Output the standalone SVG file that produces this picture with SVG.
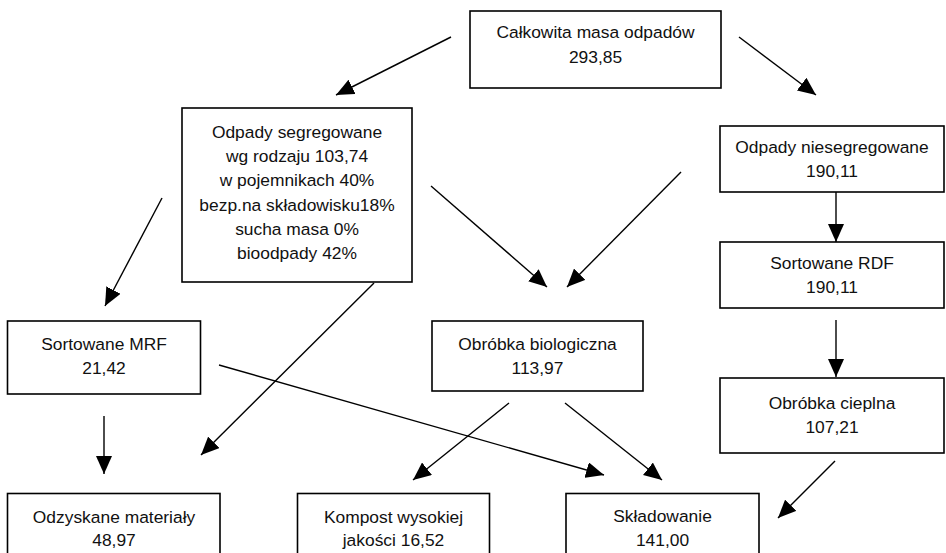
<svg xmlns="http://www.w3.org/2000/svg" width="946" height="553" viewBox="0 0 946 553">
<style>
.box{fill:#fff;stroke:#000;stroke-width:1.6}
.t{font-family:"Liberation Sans",Arial,sans-serif;font-size:17.4px;fill:#111;text-anchor:middle}
.c{stroke:#000;stroke-width:1.4;fill:none;marker-end:url(#ah)}
</style>
<defs>
<marker id="ah" viewBox="0 0 18 16" refX="18" refY="8" markerWidth="18" markerHeight="16" markerUnits="userSpaceOnUse" orient="auto">
<path d="M0,0 L18,8 L0,16 Z" fill="#000"/>
</marker>
</defs>
<rect width="946" height="553" fill="#fff"/>
<g id="connectors">
<line class="c" x1="451" y1="37" x2="336" y2="95"/>
<line class="c" x1="739" y1="37" x2="816" y2="95"/>
<line class="c" x1="162" y1="198" x2="105" y2="306"/>
<line class="c" x1="431" y1="186" x2="547" y2="287"/>
<line class="c" x1="681" y1="172" x2="567" y2="287"/>
<line class="c" x1="836" y1="186" x2="836" y2="242"/>
<line class="c" x1="836" y1="320" x2="836" y2="377"/>
<line class="c" x1="104" y1="416" x2="104" y2="474"/>
<line class="c" x1="374" y1="283" x2="201" y2="455"/>
<line class="c" x1="219" y1="365" x2="604" y2="475"/>
<line class="c" x1="509" y1="403" x2="413" y2="480"/>
<line class="c" x1="565" y1="403" x2="662" y2="480"/>
<line class="c" x1="835" y1="461" x2="778" y2="518"/>
</g>
<g id="total">
<rect class="box" x="470" y="11" width="251" height="77"/>
<text class="t" x="595.5" y="38">Całkowita masa odpadów</text>
<text class="t" x="595.5" y="63">293,85</text>
</g>
<g id="segregowane">
<rect class="box" x="182" y="108" width="230" height="174"/>
<text class="t" x="297" y="138">Odpady segregowane</text>
<text class="t" x="297" y="162">wg rodzaju 103,74</text>
<text class="t" x="297" y="186">w pojemnikach 40%</text>
<text class="t" x="297" y="210.5">bezp.na składowisku18%</text>
<text class="t" x="297" y="235">sucha masa 0%</text>
<text class="t" x="297" y="259">bioodpady 42%</text>
</g>
<g id="niesegregowane">
<rect class="box" x="720" y="126" width="224" height="66"/>
<text class="t" x="832" y="153">Odpady niesegregowane</text>
<text class="t" x="832" y="177">190,11</text>
</g>
<g id="rdf">
<rect class="box" x="720" y="242" width="224" height="66"/>
<text class="t" x="832" y="269">Sortowane RDF</text>
<text class="t" x="832" y="293">190,11</text>
</g>
<g id="cieplna">
<rect class="box" x="720" y="378" width="224" height="75"/>
<text class="t" x="832" y="409">Obróbka cieplna</text>
<text class="t" x="832" y="433">107,21</text>
</g>
<g id="mrf">
<rect class="box" x="7.5" y="321" width="193" height="73"/>
<text class="t" x="104" y="350">Sortowane MRF</text>
<text class="t" x="104" y="374">21,42</text>
</g>
<g id="biologiczna">
<rect class="box" x="432" y="321" width="211" height="70"/>
<text class="t" x="537.5" y="349.5">Obróbka biologiczna</text>
<text class="t" x="537.5" y="374">113,97</text>
</g>
<g id="odzyskane">
<rect class="box" x="7.5" y="493.5" width="212.5" height="80"/>
<text class="t" x="114" y="522.5">Odzyskane materiały</text>
<text class="t" x="114" y="546">48,97</text>
</g>
<g id="kompost">
<rect class="box" x="297.5" y="493.5" width="192" height="80"/>
<text class="t" x="393.5" y="522.5">Kompost wysokiej</text>
<text class="t" x="393.5" y="546">jakości 16,52</text>
</g>
<g id="skladowanie">
<rect class="box" x="566" y="493.5" width="193" height="80"/>
<text class="t" x="662.5" y="522">Składowanie</text>
<text class="t" x="662.5" y="546">141,00</text>
</g>
</svg>
